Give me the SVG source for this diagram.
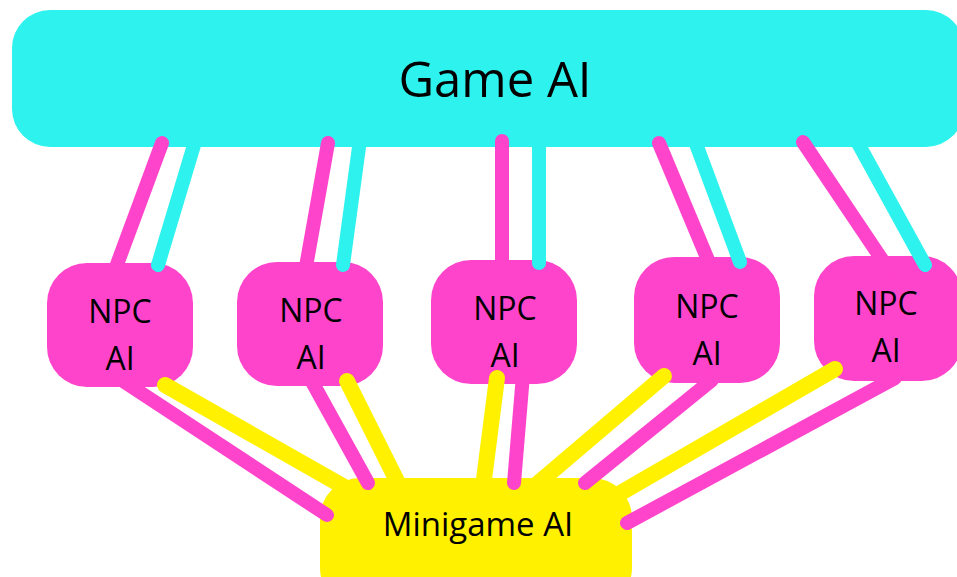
<svg xmlns="http://www.w3.org/2000/svg" width="957" height="577" viewBox="0 0 957 577">
<style>
.game{fill:#2DF2EE}
.npc{fill:#FF44CC}
.mini{fill:#FFF100}
text{font-family:"Open Sans","Noto Sans","DejaVu Sans",sans-serif;fill:#000;text-anchor:middle}
.t1{font-size:49px}
.t2{font-size:32px}
.t3{font-size:33px}
.cp{stroke:#FF44CC;stroke-width:14;stroke-linecap:round;fill:none}
.cc{stroke:#2DF2EE;stroke-width:14;stroke-linecap:round;fill:none}
.cy{stroke:#FFF100;stroke-width:16;stroke-linecap:round;fill:none}
</style>
<rect width="957" height="577" fill="#fff"/>
<g id="game-ai"><rect class="game" x="12" y="10" width="952" height="137" rx="38"/><text class="t1" x="495" y="97">Game AI</text></g>
<g id="npc1"><rect class="npc" x="47" y="263" width="146" height="124" rx="40"/><text class="t2" x="120" y="323">NPC</text><text class="t2" x="120" y="370">AI</text></g>
<g id="npc2"><rect class="npc" x="237" y="262" width="146" height="124" rx="40"/><text class="t2" x="311" y="322">NPC</text><text class="t2" x="311" y="369">AI</text></g>
<g id="npc3"><rect class="npc" x="431" y="260" width="146" height="124" rx="40"/><text class="t2" x="505" y="320">NPC</text><text class="t2" x="505" y="367">AI</text></g>
<g id="npc4"><rect class="npc" x="634" y="257" width="146" height="126" rx="40"/><text class="t2" x="707" y="318">NPC</text><text class="t2" x="707" y="365">AI</text></g>
<g id="npc5"><rect class="npc" x="814" y="256" width="148" height="125" rx="40"/><text class="t2" x="886" y="315">NPC</text><text class="t2" x="886" y="362">AI</text></g>
<g id="minigame-ai"><rect class="mini" x="320" y="478" width="312" height="130" rx="40"/><text class="t3" x="478" y="536">Minigame AI</text></g>
<g id="connectors">
<line class="cp" x1="112" y1="278" x2="162" y2="143"/>
<line class="cc" x1="200" y1="125" x2="158" y2="265"/>
<line class="cp" x1="304" y1="278" x2="328" y2="143"/>
<line class="cc" x1="362" y1="125" x2="343" y2="265"/>
<line class="cp" x1="502" y1="275" x2="502" y2="141"/>
<line class="cc" x1="539" y1="125" x2="539" y2="263"/>
<line class="cp" x1="713" y1="272" x2="659" y2="143"/>
<line class="cc" x1="689" y1="125" x2="740" y2="262"/>
<line class="cp" x1="889" y1="270" x2="803" y2="142"/>
<line class="cc" x1="848" y1="125" x2="925" y2="265"/>
<line class="cp" x1="123" y1="381" x2="327" y2="515"/>
<line class="cy" x1="165" y1="385" x2="355" y2="493"/>
<line class="cp" x1="310" y1="378" x2="368" y2="483"/>
<line class="cy" x1="347" y1="381" x2="404" y2="495"/>
<line class="cy" x1="497" y1="378" x2="482" y2="495"/>
<line class="cp" x1="523" y1="375" x2="514" y2="483"/>
<line class="cy" x1="664" y1="376" x2="530" y2="490"/>
<line class="cp" x1="712" y1="380" x2="585" y2="483"/>
<line class="cy" x1="835" y1="369" x2="605" y2="502"/>
<line class="cp" x1="895" y1="378" x2="627" y2="523"/>
</g>
</svg>
